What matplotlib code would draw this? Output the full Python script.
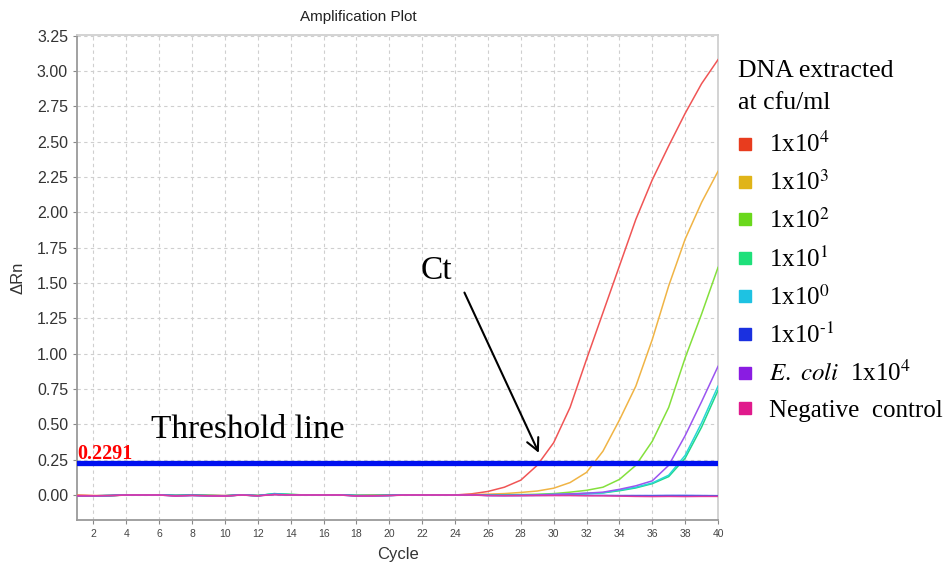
"""
qPCR amplification plot: delta Rn vs cycle, with threshold line and Ct callout.
"""
import matplotlib
matplotlib.use("Agg")
import matplotlib.pyplot as plt
from matplotlib.lines import Line2D

plt.rcParams["mathtext.fontset"] = "stix"

cycles = list(range(1, 41))

# ΔRn per cycle (1..40)
rn_1e4 = [0.0, -0.004, -0.006, 0.0, 0.0, 0.0, -0.003, 0.0, -0.002, -0.004,
          0.0, -0.004, 0.004, 0.0, 0.0, 0.0, 0.0, -0.002, 0.0, 0.0,
          0.0, 0.0, 0.0, 0.0, 0.008, 0.025, 0.055, 0.105, 0.21, 0.37,
          0.62, 0.96, 1.29, 1.62, 1.95, 2.23, 2.47, 2.70, 2.91, 3.08]
rn_1e3 = [-0.003, -0.005, -0.004, 0.0, 0.0, 0.0, -0.002, 0.0, -0.003, -0.005,
          0.0, -0.003, 0.006, 0.002, 0.0, 0.0, 0.0, -0.003, -0.002, 0.0,
          0.0, 0.0, 0.0, 0.0, 0.003, 0.006, 0.01, 0.018, 0.028, 0.048,
          0.088, 0.16, 0.31, 0.53, 0.77, 1.10, 1.48, 1.81, 2.07, 2.29]
rn_1e2 = [-0.006, -0.006, -0.003, 0.0, 0.0, 0.0, -0.004, -0.002, -0.004, -0.006,
          0.0, -0.005, 0.008, 0.004, 0.0, 0.0, 0.0, -0.004, -0.004, -0.002,
          0.0, 0.0, 0.0, 0.0, 0.0, 0.0, 0.002, 0.003, 0.005, 0.01,
          0.02, 0.033, 0.055, 0.11, 0.21, 0.38, 0.62, 0.97, 1.28, 1.61]
rn_1e1 = [-0.008, -0.007, -0.004, 0.0, 0.0, 0.0, -0.004, -0.002, -0.004, -0.006,
          0.0, -0.005, 0.01, 0.003, 0.0, 0.0, 0.0, -0.004, -0.004, -0.003,
          0.0, 0.0, 0.0, 0.0, 0.0, -0.002, -0.002, 0.0, 0.002, 0.004,
          0.006, 0.01, 0.015, 0.03, 0.05, 0.08, 0.13, 0.26, 0.48, 0.74]
rn_1e0 = [-0.007, -0.006, -0.004, 0.0, 0.0, 0.0, -0.003, -0.002, -0.004, -0.005,
          0.0, -0.004, 0.009, 0.003, 0.0, 0.0, 0.0, -0.003, -0.004, -0.003,
          0.0, 0.0, 0.0, 0.0, 0.0, -0.002, -0.002, 0.0, 0.002, 0.004,
          0.007, 0.011, 0.016, 0.035, 0.055, 0.085, 0.14, 0.28, 0.51, 0.77]
rn_1em1 = [-0.006, -0.006, -0.004, 0.0, 0.0, 0.0, -0.004, -0.002, -0.005, -0.006,
           0.0, -0.005, 0.004, 0.0, 0.0, 0.0, 0.0, -0.005, -0.005, -0.003,
           0.0, 0.0, 0.0, 0.0, 0.0, -0.003, -0.004, -0.004, -0.003, -0.002,
           -0.002, -0.002, -0.003, -0.004, -0.004, -0.004, -0.003, -0.003, -0.004, -0.005]
rn_ecoli = [-0.005, -0.006, -0.004, 0.0, 0.0, 0.0, -0.008, -0.004, -0.007, -0.008,
            0.0, -0.006, 0.004, 0.0, 0.0, 0.0, 0.0, -0.008, -0.007, -0.004,
            0.0, 0.0, 0.0, 0.0, 0.0, -0.004, -0.004, -0.002, 0.0, 0.004,
            0.008, 0.013, 0.02, 0.04, 0.065, 0.10, 0.21, 0.42, 0.66, 0.91]
rn_neg = [-0.006, -0.006, -0.004, 0.0, 0.0, 0.0, -0.007, -0.003, -0.006, -0.008,
          0.0, -0.006, 0.003, 0.0, 0.0, 0.0, 0.0, -0.007, -0.006, -0.004,
          0.0, 0.0, 0.0, 0.0, 0.0, -0.004, -0.005, -0.005, -0.004, -0.004,
          -0.004, -0.006, -0.006, -0.008, -0.01, -0.011, -0.01, -0.011, -0.01, -0.01]

series = [rn_1e4, rn_1e3, rn_1e2, rn_1e1, rn_1e0, rn_1em1, rn_ecoli, rn_neg]
line_colors = ["#f05555", "#f0b445", "#84e03c", "#1fd98a", "#2ad6d6",
               "#3a5cf0", "#9b55f0", "#e03aa0"]
legend_colors = ["#e83c1e", "#e0b418", "#6ad81c", "#1ee07a", "#1ec2e2",
                 "#1a30e0", "#8a1ce2", "#e01a8c"]
legend_labels = [r"1x10$^{4}$", r"1x10$^{3}$", r"1x10$^{2}$", r"1x10$^{1}$",
                 r"1x10$^{0}$", r"1x10$^{\text{-}1}$",
                 r"$\mathit{E.\ coli}$  1x10$^{4}$", "Negative  control"]
legend_title = ["DNA extracted", "at cfu/ml"]

threshold = 0.2291
yticks = [0.0, 0.25, 0.5, 0.75, 1.0, 1.25, 1.5, 1.75, 2.0, 2.25, 2.5, 2.75, 3.0, 3.25]
xticks = list(range(2, 41, 2))

SERIF = "Liberation Serif"
SANS = "Liberation Sans"

fig = plt.figure(figsize=(9.5, 5.68), dpi=100)
ax = fig.add_axes([0.0811, 0.0845, 0.6747, 0.854])

for vals, col in zip(series, line_colors):
    ax.plot(cycles, vals, color=col, lw=1.1, zorder=3)

ax.axhline(threshold, color="#0010f0", lw=3.8, zorder=5)
ax.text(1.02, threshold - 0.008, f"{threshold:.4f}", color="red", fontsize=14.5,
        fontweight="bold", family=SERIF, va="bottom", ha="left", zorder=6)

ax.text(5.47, 0.46, "Threshold line", fontsize=24, family=SERIF, va="center", ha="left")
ax.text(21.9, 1.59, "Ct", fontsize=24, family=SERIF, va="center", ha="left")
ax.annotate("", xy=(29.17, 0.28), xytext=(24.5, 1.45),
            arrowprops=dict(arrowstyle="->", color="black", lw=1.5,
                            mutation_scale=22))

ax.set_xlim(1, 40)
ax.set_ylim(-0.177, 3.255)
ax.set_xticks(xticks)
ax.set_yticks(yticks)
ax.set_yticklabels([f"{v:.2f}" for v in yticks])
ax.tick_params(axis="y", labelsize=11.5, length=3, color="#888888", labelcolor="#333333")
ax.tick_params(axis="x", labelsize=7.5, length=3, color="#888888", labelcolor="#444444")
for lab in ax.get_xticklabels() + ax.get_yticklabels():
    lab.set_family(SANS)

ax.grid(True, color="#cfcfcf", linestyle=(0, (3, 3)), lw=0.8)
ax.set_axisbelow(True)
for side, spine in ax.spines.items():
    spine.set_color("#9a9a9a" if side in ("left", "bottom") else "#d0d0d0")
    spine.set_linewidth(1.3)

ax.set_xlabel("Cycle", fontsize=12, family=SANS, color="#333333", labelpad=6)
ax.set_ylabel("ΔRn", fontsize=12, family=SANS, color="#333333", labelpad=8)
fig.text(358 / 950, 1 - 17 / 568, "Amplification Plot", fontsize=11, family=SANS,
         ha="center", va="center", color="#222222")

# legend title as two text lines, entries below
for i, line in enumerate(legend_title):
    fig.text(738 / 950, 1 - (71 + 32 * i) / 568, line, fontsize=18.5, family=SERIF,
             ha="left", va="center")

handles = [Line2D([], [], marker="s", linestyle="none", color=c, markersize=9)
           for c in legend_colors]
fig.legend(handles, legend_labels, loc="upper left",
           bbox_to_anchor=(735 / 950, 1 - 132 / 568), frameon=False,
           prop={"family": SERIF, "size": 18},
           handlelength=0.8, handletextpad=0.55, labelspacing=0.52,
           borderaxespad=0, borderpad=0)

fig.savefig("out.png", dpi=100)
